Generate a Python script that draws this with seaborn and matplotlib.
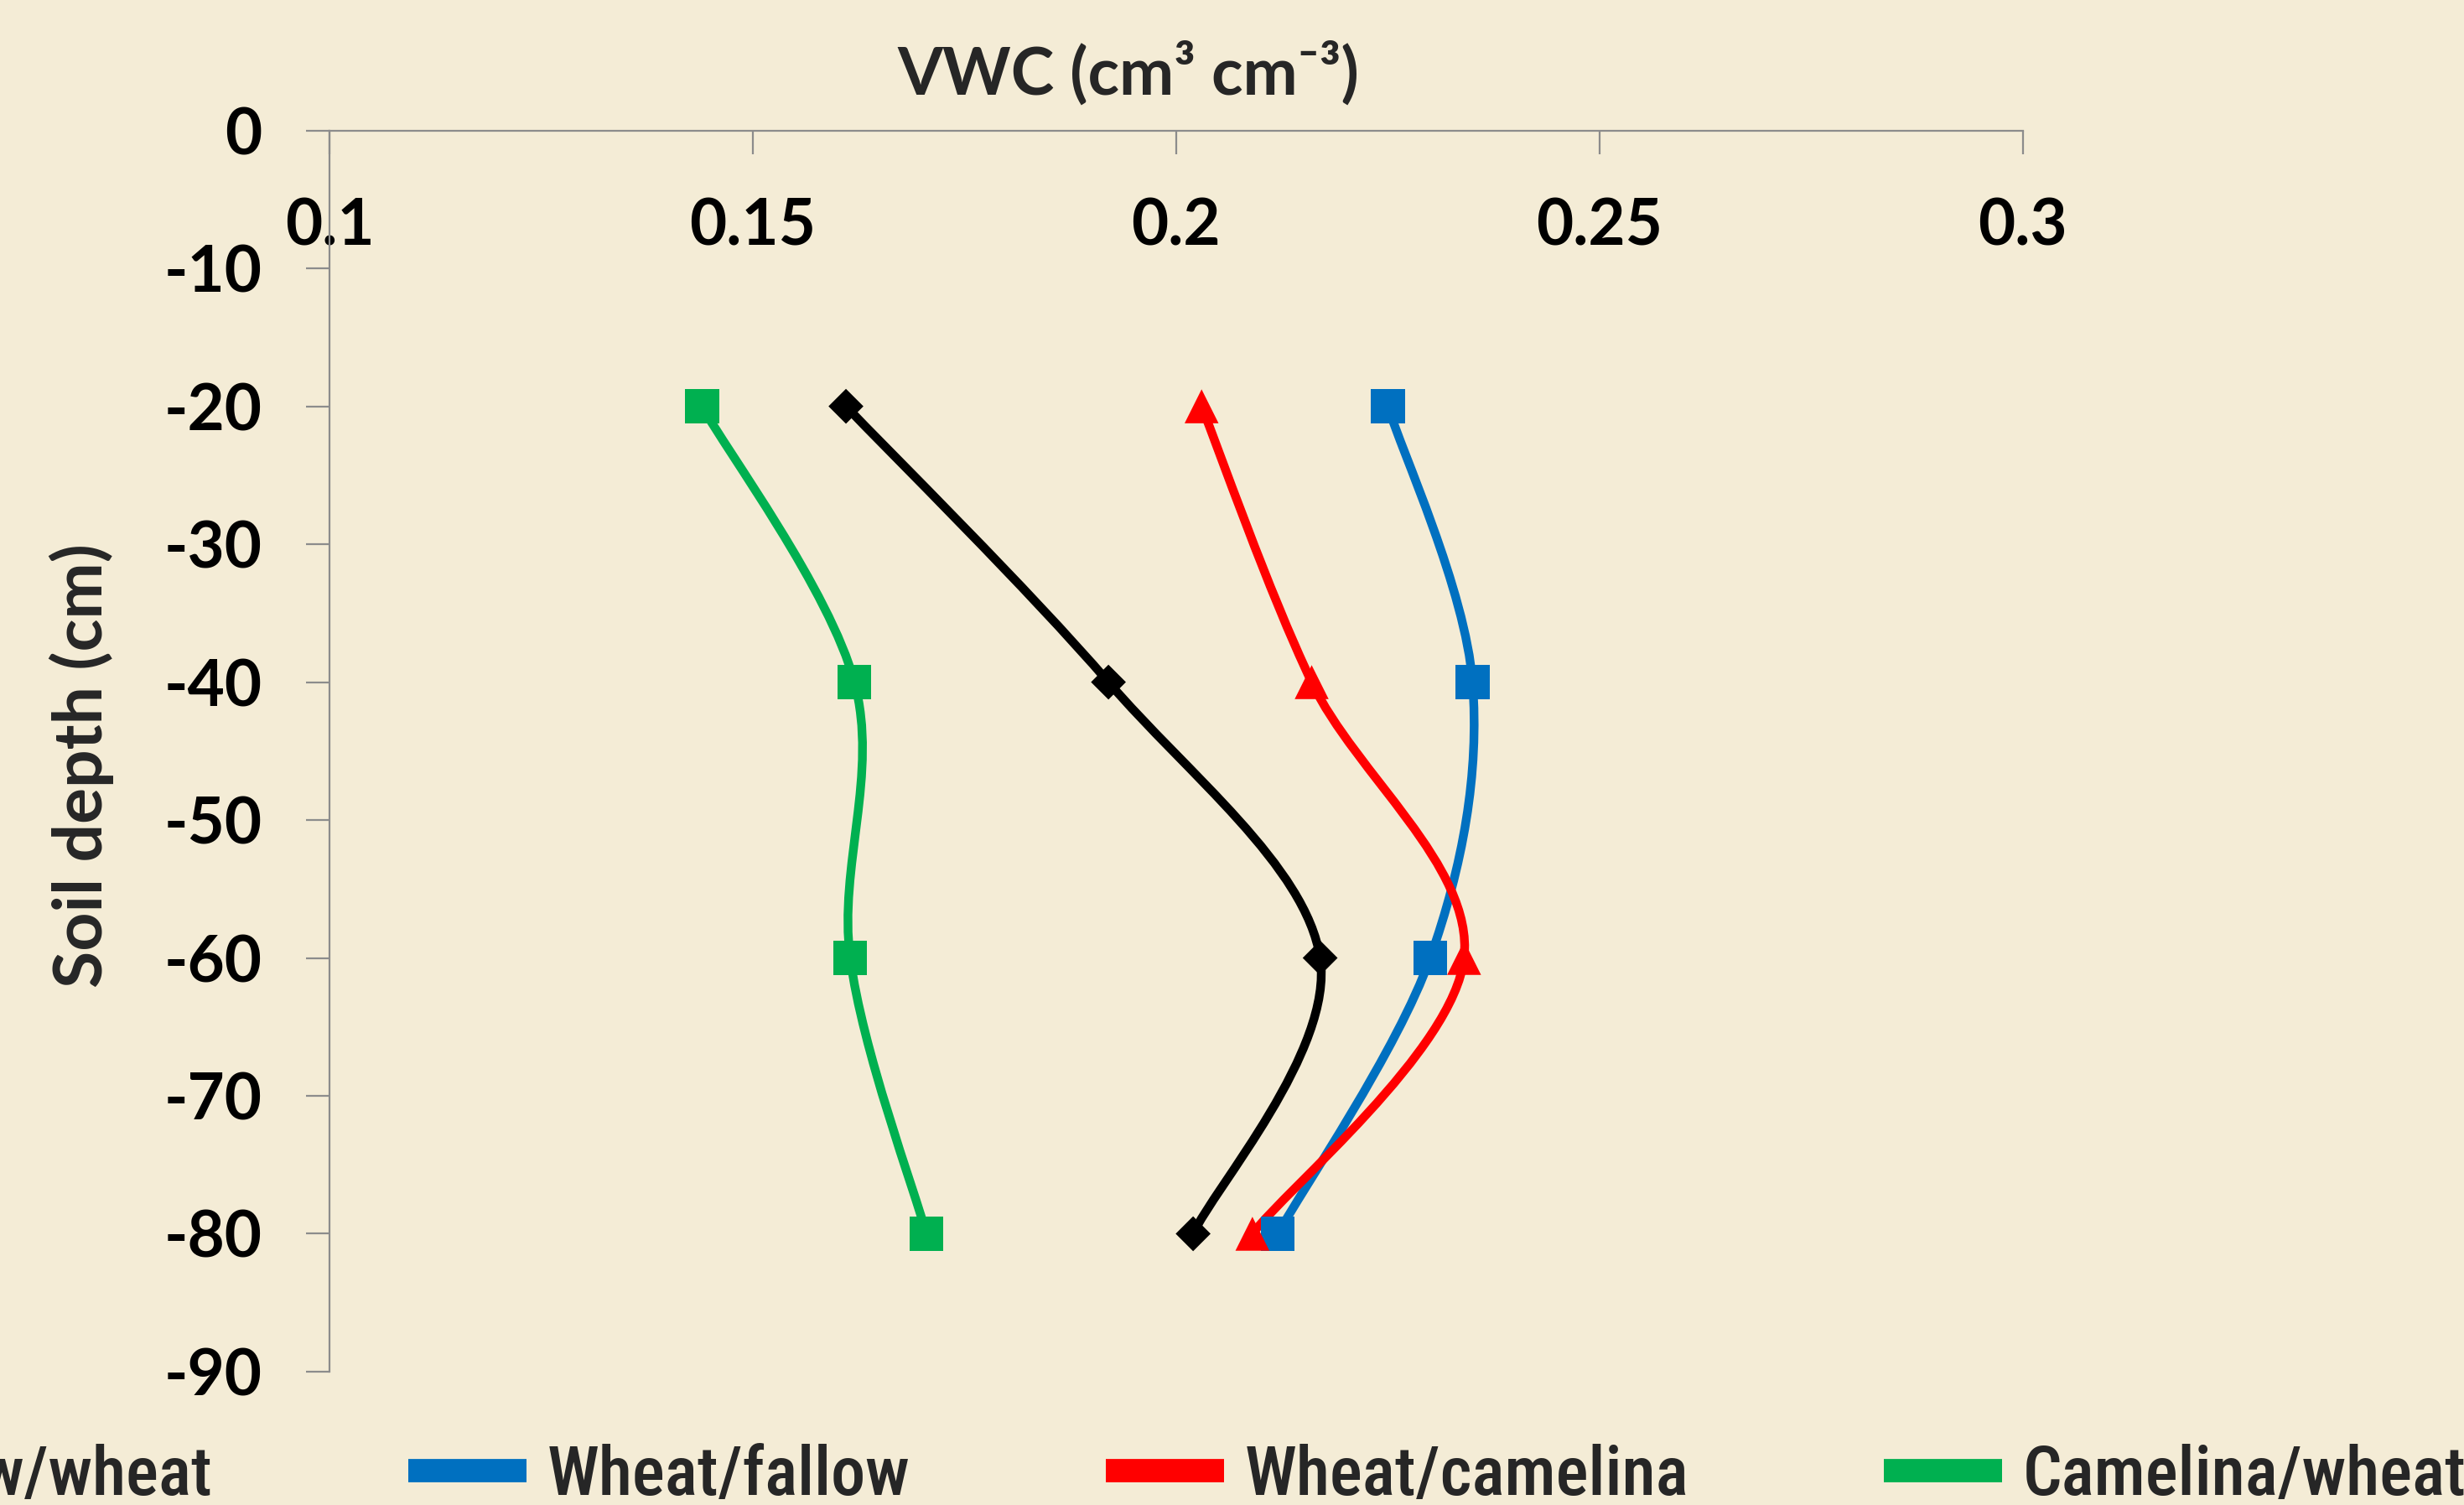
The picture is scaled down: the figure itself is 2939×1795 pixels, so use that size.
import matplotlib
matplotlib.use('Agg')
import matplotlib.pyplot as plt
from matplotlib.path import Path
from matplotlib.patches import PathPatch
from matplotlib.lines import Line2D
import seaborn as sns
import pandas as pd
import numpy as np

# Data
depth = [-20, -40, -60, -80]
fallow_wheat = [0.161, 0.192, 0.217, 0.202]
wheat_fallow = [0.225, 0.235, 0.230, 0.212]
wheat_camelina = [0.203, 0.216, 0.234, 0.209]
camelina_wheat = [0.144, 0.162, 0.1615, 0.1705]

series_names = ['Fallow/wheat', 'Wheat/fallow', 'Wheat/camelina', 'Camelina/wheat']
series_values = [fallow_wheat, wheat_fallow, wheat_camelina, camelina_wheat]
x_ticks = [0.1, 0.15, 0.2, 0.25, 0.3]
x_tick_labels = ['0.1', '0.15', '0.2', '0.25', '0.3']
y_ticks = [0, -10, -20, -30, -40, -50, -60, -70, -80, -90]

colors = ['#000000', '#0070C0', '#FF0000', '#00B050']
markers = ['D', 's', '^', 's']
marker_sizes = [450, 850, 850, 850]

BG = '#F4ECD6'
AXIS_GREY = '#8C8C8C'


def smooth_path(xs, ys):
    """Excel-style smoothed line as cubic Bezier segments."""
    pts = np.column_stack([xs, ys]).astype(float)
    n = len(pts)
    verts = [pts[0]]
    codes = [Path.MOVETO]
    for i in range(n - 1):
        p0 = pts[max(i - 1, 0)]
        p1 = pts[i]
        p2 = pts[i + 1]
        p3 = pts[min(i + 2, n - 1)]
        verts += [p1 + (p2 - p0) / 6, p2 - (p3 - p1) / 6, p2]
        codes += [Path.CURVE4] * 3
    return Path(verts, codes)


sns.set_theme(style='white')
plt.rcParams['font.family'] = ['Lato', 'DejaVu Sans']
plt.rcParams['font.weight'] = 'bold'

legend_font = {'family': 'Roboto Condensed', 'size': 59, 'weight': 500}

df = pd.DataFrame({
    'series': np.repeat(series_names, len(depth)),
    'depth': depth * len(series_names),
    'vwc': np.concatenate(series_values),
})

fig = plt.figure(figsize=(29.39, 17.95), dpi=100, facecolor=BG)
ax = fig.add_axes([0.1337, 0.0886, 0.8210 - 0.1337, 0.9133 - 0.0886])
ax.set_facecolor(BG)

for name, col, mk, ms in zip(series_names, colors, markers, marker_sizes):
    sub = df[df['series'] == name]
    ax.add_patch(PathPatch(smooth_path(sub['vwc'], sub['depth']), facecolor='none',
                           edgecolor=col, lw=7.5, zorder=3, capstyle='round'))
    sns.scatterplot(data=sub, x='vwc', y='depth', marker=mk, s=ms, color=col,
                    edgecolor='none', linewidth=0, ax=ax, zorder=4, legend=False)

ax.set_xlim(0.1, 0.3)
ax.set_ylim(-90, 0)
ax.set_xticks(x_ticks)
ax.set_xticklabels(x_tick_labels)
ax.set_yticks(y_ticks)
ax.set_yticklabels([str(v) for v in y_ticks])
ax.set_xlabel('')
ax.set_ylabel('')

for side in ['right', 'bottom']:
    ax.spines[side].set_visible(False)
for side in ['left', 'top']:
    ax.spines[side].set_color(AXIS_GREY)
    ax.spines[side].set_linewidth(1.6)

ax.xaxis.tick_top()
ax.tick_params(axis='x', which='major', direction='in', length=20, width=1.6,
               color=AXIS_GREY, labelsize=55, pad=-108, labelcolor='black')
ax.tick_params(axis='y', which='major', direction='out', length=20, width=1.6,
               color=AXIS_GREY, labelsize=55, pad=38, labelcolor='black', left=True)
for lab in ax.get_xticklabels() + ax.get_yticklabels():
    lab.set_fontweight('bold')

fig.text(0.458, 0.951, 'VWC (cm³ cm⁻³)', ha='center', va='center', fontsize=56,
         fontweight='bold', family=['Lato', 'DejaVu Sans'])
fig.text(0.033, 0.4914, 'Soil depth (cm)', ha='center', va='center', rotation=90,
         fontsize=58, fontweight='bold')

handles = [Line2D([], [], color=c, lw=20, solid_capstyle='butt') for c in colors]
leg_kw = dict(loc='center', ncol=4, frameon=False, prop=legend_font,
              handlelength=1.72, handletextpad=0.3, columnspacing=2.85,
              borderaxespad=0, borderpad=0)
leg = fig.legend(handles, series_names, bbox_to_anchor=(0.4527, 0.019), **leg_kw)

# shift legend so that the blue handle starts where it does in the reference
fig.canvas.draw()
r = fig.canvas.get_renderer()
bb = leg.legend_handles[1].get_window_extent(r)
dx = (487 - bb.x0) / fig.bbox.width
leg.set_bbox_to_anchor((0.4527 + dx, 0.019), transform=fig.transFigure)

fig.savefig('out.png', dpi=100, facecolor=BG)
